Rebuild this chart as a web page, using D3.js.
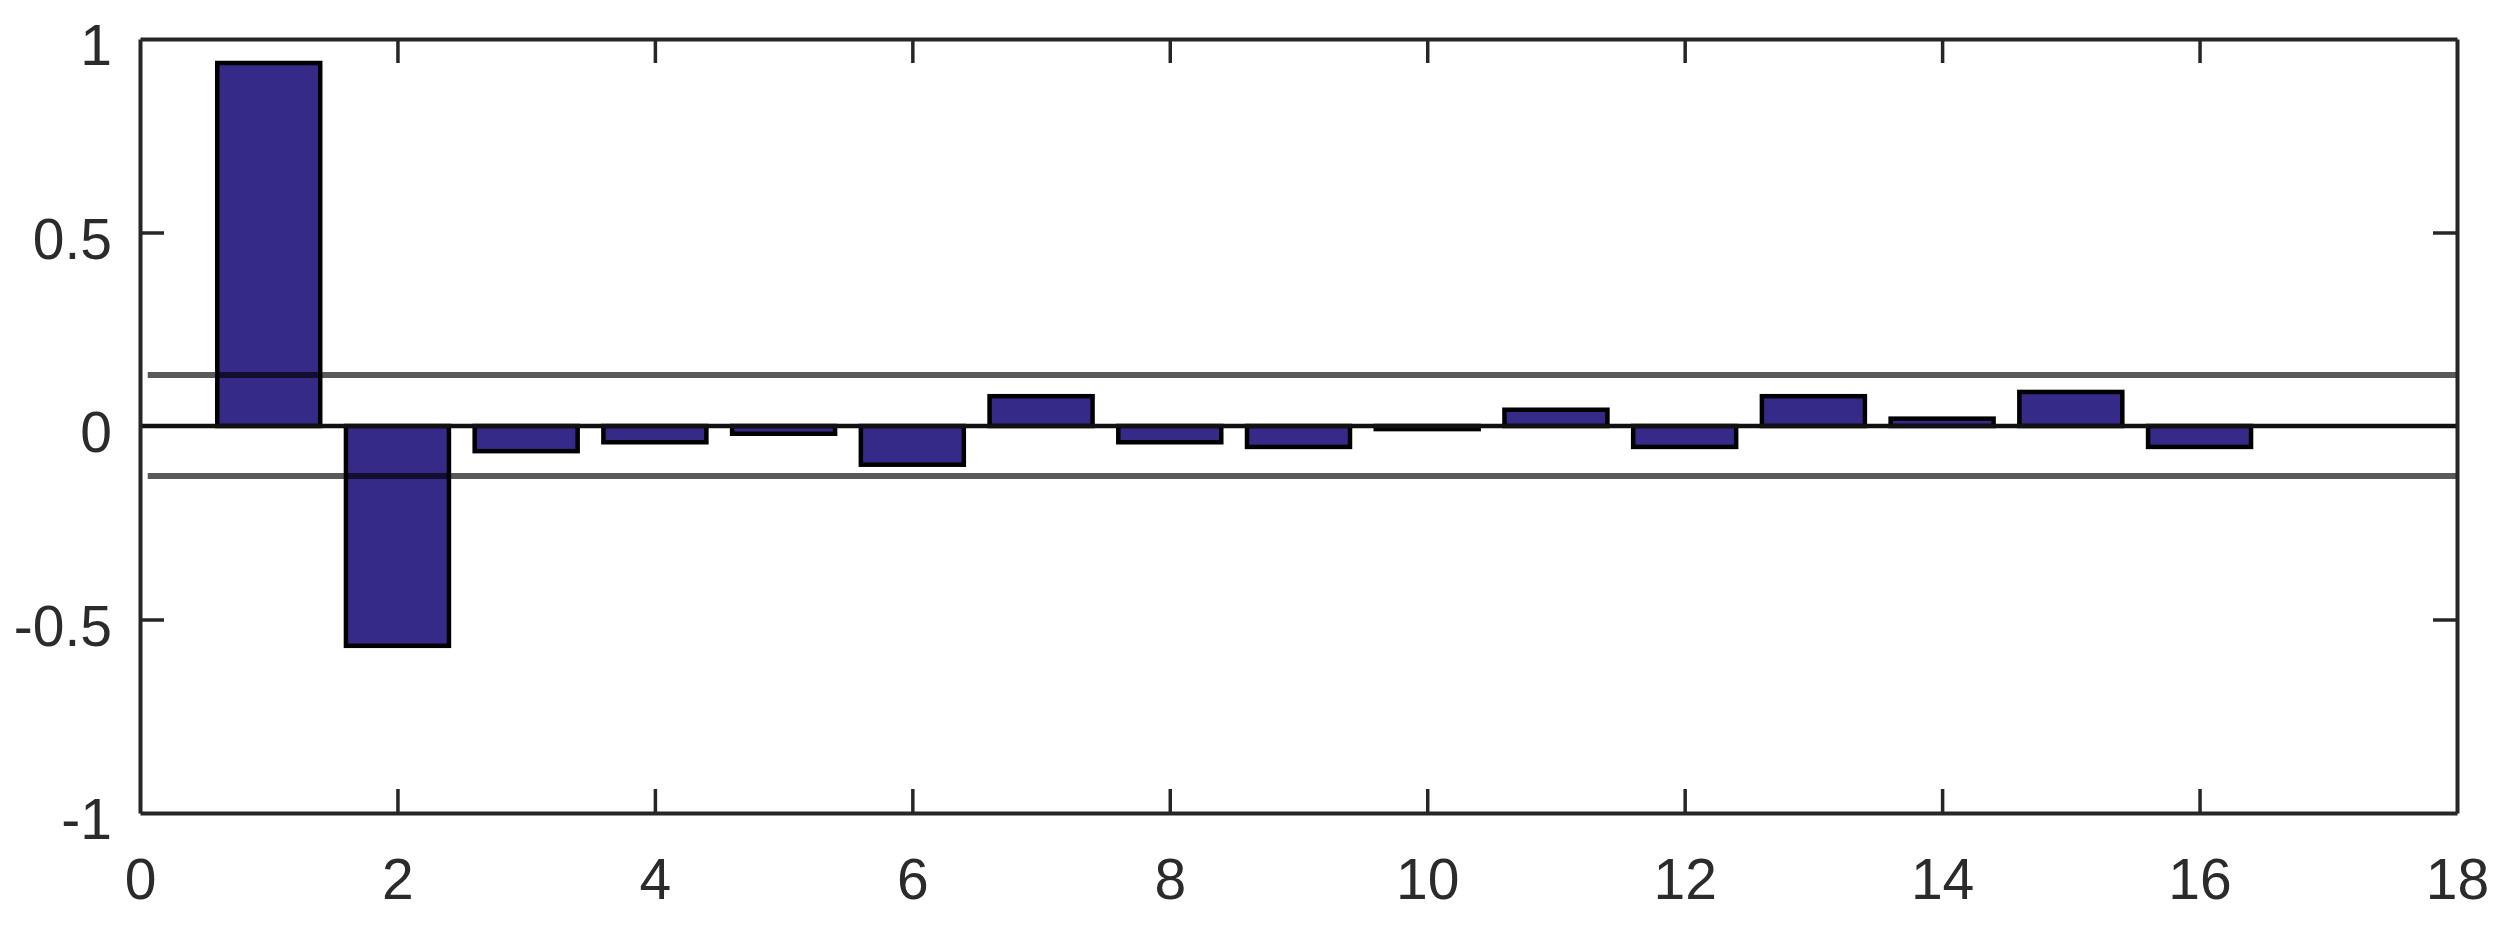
<!DOCTYPE html>
<html>
<head>
<meta charset="utf-8">
<script src="https://cdn.jsdelivr.net/npm/d3@7"></script>
<style>
  html, body { margin: 0; padding: 0; background: #fff; }
  svg { display: block; }
  .tick text { font-family: "Liberation Sans", Arial, sans-serif; fill: #2b2b2b; }
</style>
</head>
<body>
<div id="chart"></div>
<script>
// sample autocorrelation by lag
const lags = [1, 2, 3, 4, 5, 6, 7, 8, 9, 10, 11, 12, 13, 14, 15, 16];
const acfValues = [0.938, -0.568, -0.065, -0.042, -0.020, -0.100, 0.077, -0.042,
  -0.054, -0.008, 0.042, -0.054, 0.077, 0.019, 0.088, -0.054];
const confBounds = [0.132, -0.129];
const xTicks = [0, 2, 4, 6, 8, 10, 12, 14, 16, 18];
const yTicks = [-1, -0.5, 0, 0.5, 1];
const yTickLabels = ["-1", "-0.5", "0", "0.5", "1"];

const width = 2506, height = 925;
const margin = { top: 39, right: 49, bottom: 112, left: 140 };
const innerW = width - margin.left - margin.right;
const innerH = height - margin.top - margin.bottom;
const barWidth = 0.8;
const tickLen = 24;
const axisColor = "#262626";

const x = d3.scaleLinear().domain([0, 18]).range([0, innerW]);
const y = d3.scaleLinear().domain([-1, 1]).range([innerH, 0]);

const svg = d3.select("#chart").append("svg")
  .attr("width", width).attr("height", height);
const g = svg.append("g").attr("transform", `translate(${margin.left},${margin.top})`);

// bars
g.append("g").selectAll("rect").data(lags).join("rect")
  .attr("x", (d) => x(d - barWidth / 2))
  .attr("width", x(barWidth) - x(0))
  .attr("y", (d, i) => y(Math.max(0, acfValues[i])))
  .attr("height", (d, i) => Math.abs(y(acfValues[i]) - y(0)))
  .attr("fill", "#352a87")
  .attr("stroke", "#000")
  .attr("stroke-width", 4.5);

// zero line + confidence bounds
g.append("line")
  .attr("x1", x(0)).attr("x2", x(18))
  .attr("y1", y(0)).attr("y2", y(0))
  .attr("stroke", "#111").attr("stroke-width", 4.5);

g.append("g").selectAll("line").data(confBounds).join("line")
  .attr("x1", x(0.06)).attr("x2", x(18))
  .attr("y1", (d) => y(d)).attr("y2", (d) => y(d))
  .attr("stroke", "#000").attr("stroke-opacity", 0.65).attr("stroke-width", 6);

// axes (ticks point inward, box on)
function styleAxis(sel) {
  sel.select(".domain").attr("stroke", axisColor).attr("stroke-width", 4);
  sel.selectAll(".tick line").attr("stroke", axisColor).attr("stroke-width", 3.5);
  sel.selectAll(".tick text").style("font-size", "57px");
}

g.append("g").attr("transform", `translate(0,${innerH})`)
  .call(d3.axisBottom(x).tickValues(xTicks).tickFormat(d3.format("d"))
    .tickSizeInner(-tickLen).tickSizeOuter(0).tickPadding(46))
  .call(styleAxis);

g.append("g")
  .call(d3.axisTop(x).tickValues(xTicks).tickFormat("")
    .tickSizeInner(-tickLen).tickSizeOuter(0))
  .call(styleAxis);

g.append("g")
  .call(d3.axisLeft(y).tickValues(yTicks).tickFormat((d, i) => yTickLabels[i])
    .tickSizeInner(-tickLen).tickSizeOuter(0).tickPadding(28))
  .call(styleAxis)
  .selectAll(".tick text").attr("dy", "0.45em");

g.append("g").attr("transform", `translate(${innerW},0)`)
  .call(d3.axisRight(y).tickValues(yTicks).tickFormat("")
    .tickSizeInner(-tickLen).tickSizeOuter(0))
  .call(styleAxis);

// hide end ticks that sit on the box corners
g.selectAll(".tick").filter((d) => d === 0 || d === 18 || d === 1 || d === -1)
  .select("line").attr("stroke-opacity", 0);
</script>
</body>
</html>
